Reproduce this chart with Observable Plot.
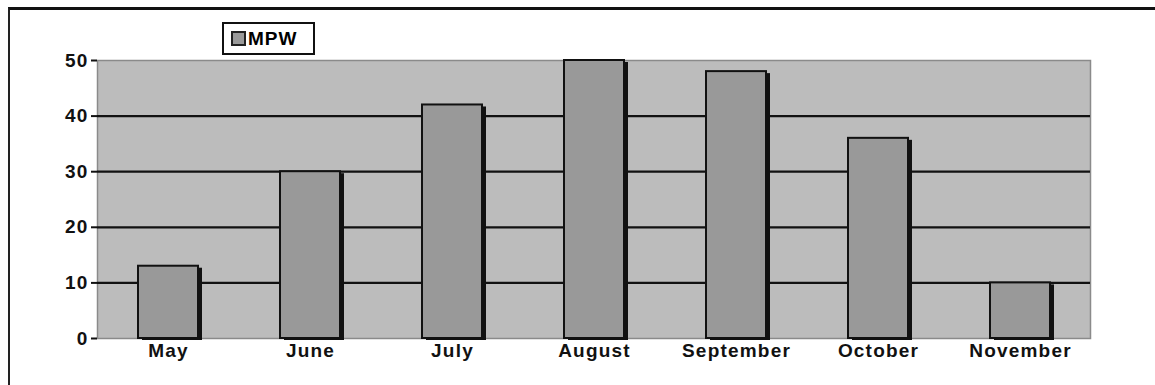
<!DOCTYPE html>
<html>
<head>
<meta charset="utf-8">
<script src="https://cdn.jsdelivr.net/npm/d3@7"></script>
<script src="https://cdn.jsdelivr.net/npm/@observablehq/plot@0.6"></script>
<style>
  html, body { margin: 0; padding: 0; background: #fff; }
  #wrap { position: relative; width: 1155px; height: 385px; overflow: hidden; }
  #border { position: absolute; left: 8px; top: 7px; width: 1160px; height: 400px; border-top: 3px solid #111; border-left: 2px solid #222; box-sizing: border-box; pointer-events: none; }
  #legend { position: absolute; left: 222px; top: 22px; width: 93px; height: 33px; box-sizing: border-box; border: 2px solid #111; background: #fff; font: bold 19px "Liberation Sans", Arial, sans-serif; letter-spacing: 1px; display: flex; align-items: center; padding-left: 7px; }
  #legend .sw { width: 11px; height: 11px; background: #9a9a9a; border: 2px solid #222; margin-right: 2px; }
  svg { font-family: "Liberation Sans", Arial, sans-serif; }
  svg text { letter-spacing: 1.2px; }
</style>
</head>
<body>
<div id="wrap">
  <div id="chart"></div>
  <div id="border"></div>
  <div id="legend"><span class="sw"></span><span id="legtext"></span></div>
</div>
<script>
const months = ["May", "June", "July", "August", "September", "October", "November"];
const mpw = [13, 30, 42, 50, 48, 36, 10];
const yTicks = [0, 10, 20, 30, 40, 50];
const gridValues = [10, 20, 30, 40];
const seriesName = "MPW";

const data = months.map((m, i) => ({month: m, value: mpw[i]}));
document.getElementById("legtext").textContent = seriesName;

const chart = Plot.plot({
  width: 1155,
  height: 385,
  marginLeft: 97,
  marginRight: 65,
  marginTop: 60,
  marginBottom: 47,
  style: {fontFamily: "'Liberation Sans', Arial, sans-serif", fontWeight: "bold", fontSize: "19px", color: "#111", background: "transparent"},
  x: {domain: months, paddingInner: 0.58, paddingOuter: 0.28, label: null, tickSize: 0, tickPadding: 5},
  y: {domain: [0, 50], ticks: yTicks, label: null, tickSize: 6, tickPadding: 3, line: true},
  marks: [
    Plot.frame({fill: "#bcbcbc", stroke: "#8a8a8a", strokeWidth: 1.5}),
    Plot.ruleY(gridValues, {stroke: "#111", strokeWidth: 2.2}),
    Plot.barY(data, {x: "month", y: "value", fill: "#111", dx: 4, dy: 2}),
    Plot.barY(data, {x: "month", y: "value", fill: "#999999", stroke: "#111", strokeWidth: 2}),
    Plot.axisY({ticks: yTicks, tickSize: 6, tickPadding: 3, stroke: "#111", strokeWidth: 2, fontSize: 19, fontWeight: "bold"}),
    Plot.axisX({tickSize: 0, tickPadding: 5, fontSize: 19, fontWeight: "bold"})
  ]
});
document.getElementById("chart").appendChild(chart);
</script>
</body>
</html>
